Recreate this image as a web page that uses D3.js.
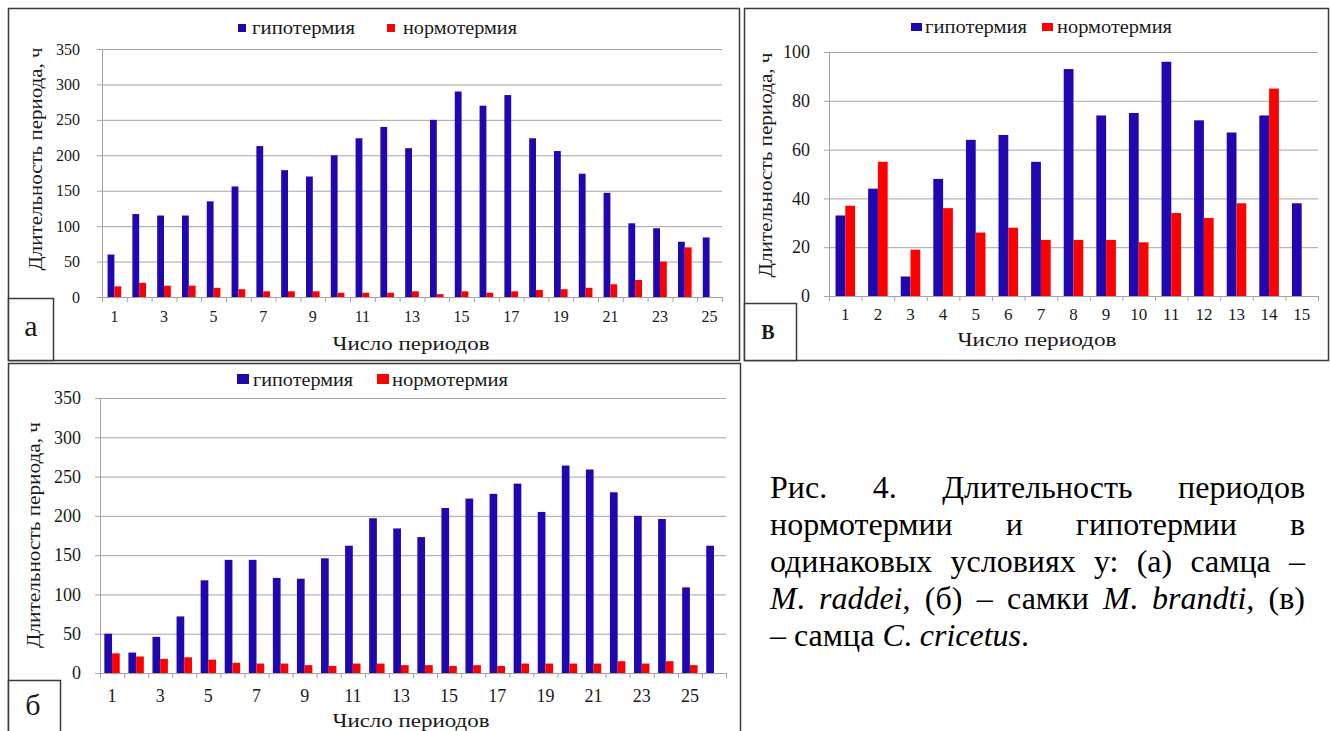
<!DOCTYPE html>
<html>
<head>
<meta charset="utf-8">
<script src="https://cdn.jsdelivr.net/npm/d3@7"></script>
<style>
  body { margin: 0; background: #fff; }
  #fig { display: block; }
</style>
</head>
<body>
<svg id="fig" width="1330" height="731"></svg>
<script>
(function () {
  'use strict';

  var HYPO_COLOR = '#2008b0';
  var NORM_COLOR = '#ff0000';
  var GRID = '#a3a3a3';
  var FRAME = '#3a3a3a';
  var INK = '#1a1a1a';
  var FONT = "'Liberation Serif'";
  var SERIES_NAMES = ['гипотермия', 'нормотермия'];
  var Y_TITLE = 'Длительность периода,  ч';
  var X_TITLE = 'Число периодов';

  // ── (а) самец M. raddei ────────────────────────────────────────────────────
  var catsA = d3.range(1, 26);
  var hypoA = [60, 117, 115, 115, 135, 156, 213, 179, 170, 200, 224, 240, 210,
               250, 290, 270, 285, 224, 206, 174, 147, 104, 97, 78, 84];
  var normA = [15, 20, 16, 16, 13, 11, 8, 8, 8, 6, 6, 6, 8,
               4, 8, 6, 8, 10, 11, 13, 18, 24, 50, 70, 0];
  var yTicksA = [0, 50, 100, 150, 200, 250, 300, 350];
  var xLabelsA = [1, 3, 5, 7, 9, 11, 13, 15, 17, 19, 21, 23, 25];

  // ── (б) самка M. brandti ───────────────────────────────────────────────────
  var catsB = d3.range(1, 27);
  var hypoB = [50, 26, 46, 72, 118, 144, 144, 121, 120, 146, 162, 197, 184,
               173, 210, 222, 228, 241, 205, 264, 259, 230, 200, 196, 109, 162];
  var normB = [25, 21, 18, 20, 17, 13, 12, 12, 10, 9, 12, 12, 10,
               10, 9, 10, 9, 12, 12, 12, 12, 15, 12, 15, 10, 0];
  var yTicksB = [0, 50, 100, 150, 200, 250, 300, 350];
  var xLabelsB = [1, 3, 5, 7, 9, 11, 13, 15, 17, 19, 21, 23, 25];

  // ── (в) самец C. cricetus ──────────────────────────────────────────────────
  var catsV = d3.range(1, 16);
  var hypoV = [33, 44, 8, 48, 64, 66, 55, 93, 74, 75, 96, 72, 67, 74, 38];
  var normV = [37, 55, 19, 36, 26, 28, 23, 23, 23, 22, 34, 32, 38, 85, 0];
  var yTicksV = [0, 20, 40, 60, 80, 100];
  var xLabelsV = d3.range(1, 16);

  // caption: lines of words, each word a list of [text, italic] pieces
  var captionLines = [
    [[['Рис.']], [['4.']], [['Длительность']], [['периодов']]],
    [[['нормотермии']], [['и']], [['гипотермии']], [['в']]],
    [[['одинаковых']], [['условиях']], [['у:']], [['(а)']], [['самца']], [['–']]],
    [[['M', 1], ['.']], [['raddei', 1], [',']], [['(б)']], [['–']], [['самки']],
     [['M', 1], ['.']], [['brandti,', 1]], [['(в)']]],
    [[['–']], [['самца']], [['C', 1], ['.']], [['cricetus', 1], ['.']]]
  ];

  var svg = d3.select('#fig');

  function drawPanel(c) {
    var n = c.cats.length;
    var w = c.right - c.left;
    var x0 = d3.scaleBand().domain(c.cats).range([c.left, c.right]);
    var gw = x0.step() * c.group;
    var x1 = d3.scaleBand().domain([0, 1]).range([0, gw]);
    var xl = d3.scaleLinear().domain([0, n]).range([c.left, c.right]);
    var y = d3.scaleLinear().domain([0, c.yMax]).range([c.bottom, c.top]);
    var g = svg.append('g');

    // frame + label box
    g.append('rect')
      .attr('x', c.frame[0] + 0.5).attr('y', c.frame[1] + 0.5)
      .attr('width', c.frame[2]).attr('height', c.frame[3])
      .attr('fill', 'none').attr('stroke', FRAME).attr('stroke-width', 1.5);
    g.append('rect')
      .attr('x', c.tag.x + 0.5).attr('y', c.tag.y + 0.5)
      .attr('width', c.tag.w).attr('height', c.tag.h)
      .attr('fill', '#fff').attr('stroke', FRAME).attr('stroke-width', 1.5);
    g.append('text')
      .attr('x', c.tag.tx).attr('y', c.tag.ty)
      .attr('text-anchor', 'middle')
      .attr('font-family', FONT).attr('font-size', c.tag.size)
      .attr('font-weight', c.tag.bold ? 'bold' : 'normal')
      .attr('fill', INK).text(c.tag.text);

    // gridlines
    g.append('g').attr('transform', 'translate(' + c.left + ',0)')
      .call(d3.axisLeft(y).tickValues(c.yTicks).tickSize(-w).tickFormat(''))
      .call(function (s) {
        s.select('.domain').remove();
        s.selectAll('line').attr('stroke', GRID);
      });

    // bars
    [c.hypo, c.norm].forEach(function (vals, k) {
      g.append('g').selectAll('rect')
        .data(vals)
        .join('rect')
        .attr('x', function (d, i) { return x0(c.cats[i]) + (x0.step() - gw) / 2 + x1(k); })
        .attr('y', function (d) { return y(d); })
        .attr('width', x1.bandwidth())
        .attr('height', function (d) { return c.bottom - y(d); })
        .attr('fill', k === 0 ? HYPO_COLOR : NORM_COLOR);
    });

    // y axis
    var ya = g.append('g').attr('transform', 'translate(' + c.left + ',0)')
      .call(d3.axisLeft(y).tickValues(c.yTicks).tickSize(5).tickSizeOuter(0).tickPadding(c.yPad));
    ya.attr('font-family', FONT);
    ya.select('.domain').attr('stroke', GRID);
    ya.selectAll('line').attr('stroke', GRID);
    ya.selectAll('text').attr('font-family', FONT).attr('font-size', c.yFont).attr('fill', INK);

    // x axis: ticks on category borders, labels on centres
    var xa = g.append('g').attr('transform', 'translate(0,' + c.bottom + ')')
      .call(d3.axisBottom(xl).tickValues(d3.range(n + 1)).tickSize(5).tickSizeOuter(0).tickFormat(''));
    xa.select('.domain').attr('stroke', GRID);
    xa.selectAll('line').attr('stroke', GRID);
    var xb = g.append('g').attr('transform', 'translate(0,' + c.bottom + ')')
      .call(d3.axisBottom(x0).tickValues(c.xLabels).tickSize(0).tickPadding(c.xPad));
    xb.attr('font-family', FONT);
    xb.select('.domain').remove();
    xb.selectAll('text').attr('font-family', FONT).attr('font-size', c.xFont).attr('fill', INK);

    // titles
    g.append('text')
      .attr('transform', 'translate(' + c.yTitle.x + ',' + c.yTitle.y + ') rotate(-90)')
      .attr('text-anchor', 'middle').attr('dy', '0.35em')
      .attr('font-family', FONT).attr('font-size', c.titleFont).attr('fill', INK)
      .attr('textLength', c.yTitle.len).attr('lengthAdjust', 'spacingAndGlyphs')
      .text(Y_TITLE);
    g.append('text')
      .attr('x', c.xTitle.x).attr('y', c.xTitle.y)
      .attr('text-anchor', 'middle')
      .attr('font-family', FONT).attr('font-size', c.titleFont).attr('fill', INK)
      .attr('textLength', c.xTitle.len).attr('lengthAdjust', 'spacingAndGlyphs')
      .text(X_TITLE);

    // legend
    c.legend.items.forEach(function (it, k) {
      g.append('rect')
        .attr('x', it.sx).attr('y', c.legend.sy)
        .attr('width', c.legend.sw).attr('height', c.legend.sh)
        .attr('fill', k === 0 ? HYPO_COLOR : NORM_COLOR);
      g.append('text')
        .attr('x', it.tx).attr('y', c.legend.base)
        .attr('font-family', FONT).attr('font-size', c.legend.size).attr('fill', INK)
        .attr('textLength', it.len).attr('lengthAdjust', 'spacingAndGlyphs')
        .text(SERIES_NAMES[k]);
    });
  }

  // justified caption, words measured and spread over the line width
  function drawCaption(cap) {
    var g = svg.append('g');
    captionLines.forEach(function (words, li) {
      var base = cap.top + li * cap.lead;
      var nodes = words.map(function (pieces) {
        var t = g.append('text').attr('y', base)
          .attr('font-family', FONT).attr('font-size', cap.size).attr('fill', '#000');
        pieces.forEach(function (p) {
          t.append('tspan').attr('font-style', p[1] ? 'italic' : 'normal').text(p[0]);
        });
        return t;
      });
      var widths = nodes.map(function (t) { return t.node().getComputedTextLength(); });
      var last = li === captionLines.length - 1;
      var gap = last ? cap.size * 0.25
        : (cap.right - cap.left - d3.sum(widths)) / (words.length - 1);
      var x = cap.left;
      nodes.forEach(function (t, i) {
        t.attr('x', x);
        x += widths[i] + gap;
      });
    });
  }

  drawPanel({
    cats: catsA, hypo: hypoA, norm: normA, yTicks: yTicksA, xLabels: xLabelsA, yMax: 350,
    left: 102, right: 722, top: 49, bottom: 297, group: 0.55,
    yPad: 17, yFont: 16, xPad: 14, xFont: 16, titleFont: 19,
    frame: [8, 8, 731, 352],
    tag: { x: 8, y: 298, w: 45, h: 62, tx: 31, ty: 336, size: 30, text: 'а' },
    yTitle: { x: 35, y: 159, len: 223 },
    xTitle: { x: 411, y: 350, len: 157 },
    legend: { sy: 24, sw: 8, sh: 8, base: 34, size: 18,
      items: [{ sx: 238, tx: 252, len: 103 }, { sx: 387, tx: 403, len: 114 }] }
  });

  drawPanel({
    cats: catsV, hypo: hypoV, norm: normV, yTicks: yTicksV, xLabels: xLabelsV, yMax: 100,
    left: 829, right: 1318, top: 52, bottom: 296, group: 0.6,
    yPad: 14, yFont: 18, xPad: 12, xFont: 17, titleFont: 19,
    frame: [744, 8, 584, 352],
    tag: { x: 744, y: 303, w: 52, h: 57, tx: 768, ty: 339, size: 20, bold: true, text: 'В' },
    yTitle: { x: 765, y: 165, len: 225 },
    xTitle: { x: 1037, y: 346, len: 159 },
    legend: { sy: 23, sw: 11, sh: 8, base: 33, size: 18,
      items: [{ sx: 911, tx: 925, len: 102 }, { sx: 1042, tx: 1057, len: 115 }] }
  });

  drawPanel({
    cats: catsB, hypo: hypoB, norm: normB, yTicks: yTicksB, xLabels: xLabelsB, yMax: 350,
    left: 100, right: 726, top: 398, bottom: 673, group: 0.64,
    yPad: 14, yFont: 18, xPad: 16, xFont: 18, titleFont: 19,
    frame: [8, 363, 732, 400],
    tag: { x: 8, y: 680, w: 52, h: 60, tx: 33, ty: 715, size: 30, text: 'б' },
    yTitle: { x: 33, y: 535, len: 226 },
    xTitle: { x: 411, y: 727, len: 157 },
    legend: { sy: 374, sw: 12, sh: 10, base: 386, size: 18,
      items: [{ sx: 237, tx: 253, len: 100 }, { sx: 377, tx: 392, len: 116 }] }
  });

  drawCaption({ left: 770, right: 1305, top: 498, lead: 37, size: 32 });
})();
</script>
</body>
</html>
